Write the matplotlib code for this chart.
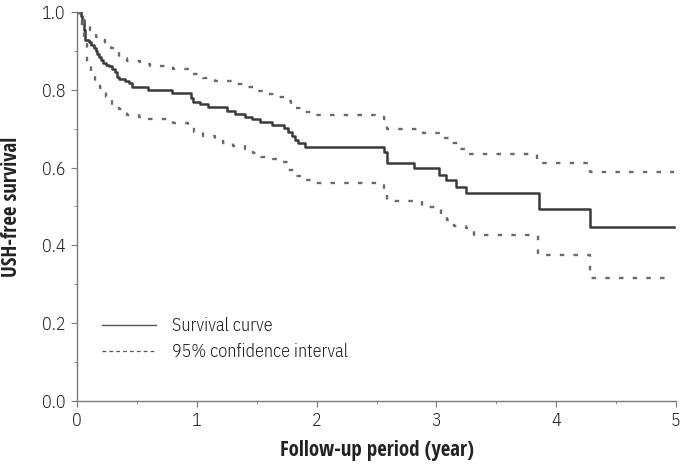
import matplotlib
matplotlib.use("Agg")
import matplotlib.pyplot as plt
from matplotlib.ticker import MultipleLocator
from matplotlib.lines import Line2D
from matplotlib import font_manager as fm

# Survival curve (step, post)
surv_t = [0, 0.03, 0.045, 0.055, 0.062, 0.07, 0.10, 0.12, 0.14, 0.155, 0.17, 0.185, 0.20,
          0.215, 0.24, 0.265, 0.29, 0.315, 0.335, 0.35, 0.40, 0.43, 0.46, 0.59, 0.79, 0.952,
          0.971, 1.027, 1.096, 1.25, 1.319, 1.402, 1.458, 1.528, 1.625, 1.73, 1.764, 1.792,
          1.82, 1.847, 1.903, 2.56, 2.59, 2.81, 3.02, 3.08, 3.16, 3.25, 3.86, 4.28, 4.98]
surv_s = [1.0, 0.99, 0.98, 0.97, 0.955, 0.928, 0.922, 0.915, 0.908, 0.900, 0.892, 0.884, 0.876,
          0.870, 0.865, 0.860, 0.854, 0.846, 0.834, 0.828, 0.822, 0.817, 0.808, 0.800, 0.793, 0.778,
          0.769, 0.763, 0.755, 0.746, 0.738, 0.731, 0.724, 0.718, 0.710, 0.701, 0.692, 0.681,
          0.671, 0.662, 0.654, 0.640, 0.613, 0.598, 0.581, 0.568, 0.551, 0.534, 0.494, 0.447, 0.447]

# Upper 95% CI
upper_t = [0, 0.02, 0.06, 0.11, 0.16, 0.20, 0.235, 0.28, 0.35, 0.42, 0.53, 0.61, 0.80, 0.97,
           1.05, 1.15, 1.33, 1.42, 1.50, 1.58, 1.67, 1.75, 1.79, 1.88, 1.95, 2.56, 2.59, 2.89,
           3.07, 3.13, 3.20, 3.27, 3.84, 4.28, 4.98]
upper_s = [1.0, 0.985, 0.971, 0.954, 0.937, 0.928, 0.915, 0.907, 0.881, 0.874, 0.866, 0.861,
           0.853, 0.840, 0.831, 0.823, 0.815, 0.806, 0.798, 0.789, 0.781, 0.772, 0.754, 0.744,
           0.735, 0.724, 0.699, 0.688, 0.675, 0.662, 0.649, 0.635, 0.613, 0.588, 0.588]

# Lower 95% CI
lower_t = [0, 0.04, 0.06, 0.08, 0.12, 0.15, 0.19, 0.24, 0.29, 0.35, 0.42, 0.52, 0.60, 0.80,
           0.93, 0.98, 1.05, 1.15, 1.22, 1.30, 1.40, 1.47, 1.54, 1.64, 1.72, 1.76, 1.82, 1.90,
           1.98, 2.56, 2.59, 2.88, 3.04, 3.09, 3.15, 3.25, 3.31, 3.85, 4.28, 4.93]
lower_s = [1.0, 0.945, 0.919, 0.868, 0.847, 0.821, 0.804, 0.781, 0.761, 0.750, 0.735, 0.731,
           0.724, 0.714, 0.710, 0.692, 0.681, 0.673, 0.664, 0.656, 0.649, 0.638, 0.628, 0.621,
           0.615, 0.594, 0.578, 0.568, 0.560, 0.542, 0.514, 0.498, 0.482, 0.465, 0.450, 0.444,
           0.428, 0.375, 0.317, 0.317]

x_ticks = [0, 1, 2, 3, 4, 5]
x_tick_labels = ["0", "1", "2", "3", "4", "5"]
y_ticks = [0.0, 0.2, 0.4, 0.6, 0.8, 1.0]
y_tick_labels = ["0.0", "0.2", "0.4", "0.6", "0.8", "1.0"]
legend_labels = ["Survival curve", "95% confidence interval"]
x_label = "Follow-up period (year)"
y_label = "USH-free survival"


def pick_font(names, weight, size, fallback_weight):
    """Find an installed face of one of the families with the closest weight."""
    for name in names:
        cands = []
        for f in fm.fontManager.ttflist:
            if f.style != 'normal':
                continue
            if f.name == name:
                cands.append((abs(int(f.weight) - weight), f.fname))
        if cands:
            cands.sort()
            return fm.FontProperties(fname=cands[0][1], size=size)
    return fm.FontProperties(family='DejaVu Sans', weight=fallback_weight, size=size)


light_tick = pick_font(['IBM Plex Sans Condensed', 'Open Sans Condensed'], 300, 13, 'light')
light_leg = pick_font(['IBM Plex Sans Condensed', 'Open Sans Condensed'], 300, 13, 'light')
bold_lab = pick_font(['Open Sans Condensed', 'IBM Plex Sans Condensed'], 700, 15, 'bold')

fig = plt.figure(figsize=(6.86, 4.66), dpi=100)
ax = fig.add_axes([77/686, 65/466, 599/686, 389/466])

solid_col = "#3a3a3a"
dash_col = "#6a6a6a"

ax.step(surv_t, surv_s, where='post', color=solid_col, lw=1.8)
ax.step(upper_t, upper_s, where='post', color=dash_col, lw=1.7, linestyle=(0, (1.9, 3.9)))
ax.step(lower_t, lower_s, where='post', color=dash_col, lw=1.7, linestyle=(0, (1.9, 3.9)))

h1 = Line2D([], [], color="#555555", lw=1.0)
h2 = Line2D([], [], color="#555555", lw=0.9, linestyle=(0, (3.0, 2.5)))
leg = ax.legend([h1, h2], legend_labels, loc='upper left', bbox_to_anchor=(0.03, 0.234),
                frameon=False, handlelength=3.0, handletextpad=0.85, labelspacing=0.45,
                prop=light_leg, labelcolor="#222222", borderaxespad=0.0)

ax.set_xlim(0, 5)
ax.set_ylim(0, 1.0)
ax.set_xticks(x_ticks)
ax.set_xticklabels(x_tick_labels, fontproperties=light_tick, color="#222222")
ax.set_yticks(y_ticks)
ax.set_yticklabels(y_tick_labels, fontproperties=light_tick, color="#222222")
ax.xaxis.set_minor_locator(MultipleLocator(0.5))
ax.yaxis.set_minor_locator(MultipleLocator(0.1))
for s in ['top', 'right']:
    ax.spines[s].set_visible(False)
for s in ['left', 'bottom']:
    ax.spines[s].set_color("#7a7a7a")
    ax.spines[s].set_linewidth(1.0)
ax.tick_params(which='major', length=4.5, color="#7a7a7a", pad=3.5)
ax.tick_params(which='minor', length=2.5, color="#7a7a7a")

ax.set_xlabel(x_label, fontproperties=bold_lab, color="#222222")
ax.set_ylabel(y_label, fontproperties=bold_lab, color="#222222")
ax.xaxis.set_label_coords(0.5, -0.1)
ax.yaxis.set_label_coords(-0.091, 0.5)

fig.savefig("out.png", dpi=100)
